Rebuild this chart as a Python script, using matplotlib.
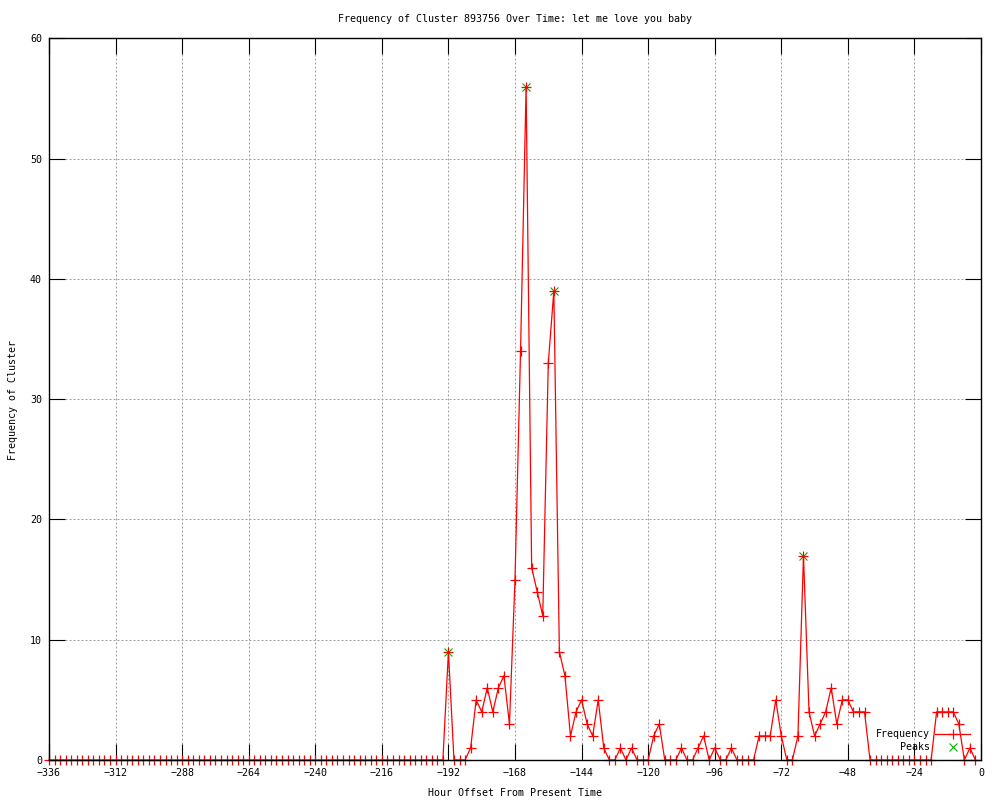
import matplotlib
matplotlib.use("Agg")
import matplotlib.pyplot as plt
from matplotlib.lines import Line2D

hours = list(range(-336, 0, 2))
frequency = [
    0, 0, 0, 0, 0, 0, 0, 0, 0, 0, 0, 0,   # -336 .. -314
    0, 0, 0, 0, 0, 0, 0, 0, 0, 0, 0, 0,   # -312 .. -290
    0, 0, 0, 0, 0, 0, 0, 0, 0, 0, 0, 0,   # -288 .. -266
    0, 0, 0, 0, 0, 0, 0, 0, 0, 0, 0, 0,   # -264 .. -242
    0, 0, 0, 0, 0, 0, 0, 0, 0, 0, 0, 0,   # -240 .. -218
    0, 0, 0, 0, 0, 0, 0, 0, 0, 0, 0, 0,   # -216 .. -194
    9, 0, 0, 0, 1, 5, 4, 6, 4, 6, 7, 3,   # -192 .. -170
    15, 34, 56, 16, 14, 12, 33, 39, 9, 7, 2, 4,   # -168 .. -146
    5, 3, 2, 5, 1, 0, 0, 1, 0, 1, 0, 0,   # -144 .. -122
    0, 2, 3, 0, 0, 0, 1, 0, 0, 1, 2, 0,   # -120 .. -98
    1, 0, 0, 1, 0, 0, 0, 0, 2, 2, 2, 5,   # -96 .. -74
    2, 0, 0, 2, 17, 4, 2, 3, 4, 6, 3, 5,   # -72 .. -50
    5, 4, 4, 4, 0, 0, 0, 0, 0, 0, 0, 0,   # -48 .. -26
    0, 0, 0, 0, 4, 4, 4, 4, 3, 0, 1, 0,   # -24 .. -2
]
peak_hours = [-192, -164, -154, -64]
peak_values = [9, 56, 39, 17]

x_ticks = list(range(-336, 1, 24))
y_ticks = list(range(0, 61, 10))

title = "Frequency of Cluster 893756 Over Time: let me love you baby"
x_label = "Hour Offset From Present Time"
y_label = "Frequency of Cluster"

FONT = "DejaVu Sans Mono"
FS = 7.2
plt.rcParams["font.family"] = [FONT]
plt.rcParams["font.size"] = FS

fig = plt.figure(figsize=(10, 8), dpi=100)
ax = fig.add_axes([0.049, 0.05, 0.932, 0.902])

ax.set_xlim(-336, 0)
ax.set_ylim(0, 60)
ax.set_xticks(x_ticks)
ax.set_yticks(y_ticks)

ax.grid(True, color="#a0a0a0", linewidth=0.72, linestyle=(0, (2, 2)))
ax.set_axisbelow(False)

ax.tick_params(axis="both", direction="in", length=11.5, width=0.8,
               top=True, right=True, colors="black", labelsize=FS)
ax.tick_params(axis="x", pad=6)
ax.tick_params(axis="y", pad=5)
for s in ax.spines.values():
    s.set_linewidth(1.0)
    s.set_color("black")
    s.set_zorder(5)

ax.plot(peak_hours, peak_values, linestyle="none", marker="x", color="#00b000",
        markersize=5.5, markeredgewidth=0.8, zorder=3, clip_on=False)
ax.plot(hours, frequency, color="red", linewidth=0.9, marker="+",
        markersize=6.5, markeredgewidth=0.9, zorder=4, clip_on=False)

ax.set_title(title, fontsize=FS, pad=12)
ax.set_xlabel(x_label, fontsize=FS)
ax.set_ylabel(y_label, fontsize=FS)
ax.xaxis.set_label_coords(0.515, 1 - 793 / 800, transform=fig.transFigure)
ax.xaxis.label.set_va("center")
ax.yaxis.set_label_coords(0.013, 0.5, transform=fig.transFigure)
ax.yaxis.label.set_va("center")

handles = [
    Line2D([], [], color="red", linewidth=0.9, marker="+", markersize=6.5,
           markeredgewidth=0.9),
    Line2D([], [], linestyle="none", color="#00b000", marker="x",
           markersize=5.5, markeredgewidth=0.8),
]
leg = ax.legend(handles, ["Frequency", "Peaks"], loc="lower right",
                bbox_to_anchor=(0.970, 1 - 752 / 800),
                bbox_transform=fig.transFigure, frameon=False,
                markerfirst=False, numpoints=1, handlelength=3.5,
                handletextpad=0.5, labelspacing=0.3, borderpad=0,
                borderaxespad=0, fontsize=FS)
leg.set_zorder(6)

fig.savefig("out.png", dpi=100)
